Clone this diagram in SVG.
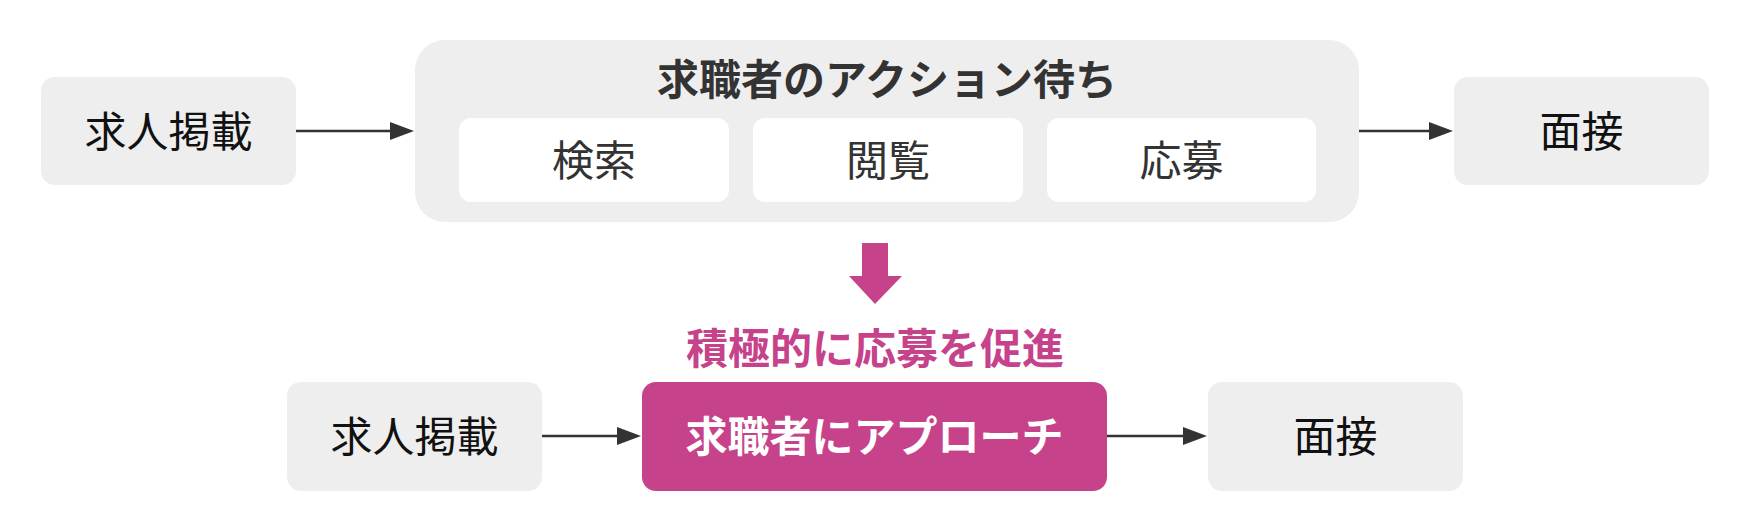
<svg xmlns="http://www.w3.org/2000/svg" width="1752" height="526" viewBox="0 0 1752 526">
  <defs>
    <style>
      .box { fill: #eeeeee; }
      .inner { fill: #ffffff; }
      .pink { fill: #c6428a; }
      .t { font-family: "Noto Sans CJK JP", "Noto Sans", sans-serif; font-size: 42px; text-anchor: middle; }
      .node { fill: #111111; font-weight: 400; }
      .sub { fill: #333333; font-weight: 400; }
      .title { fill: #333333; font-weight: 700; }
      .white { fill: #ffffff; font-weight: 700; }
      .accent { fill: #c6428a; font-weight: 700; }
      .conn { stroke: #333333; stroke-width: 2.5; fill: none; }
    </style>
    <marker id="arrow" viewBox="0 0 24 18" refX="12" refY="9" markerWidth="24" markerHeight="18" markerUnits="userSpaceOnUse" orient="auto">
      <path d="M0,0 L24,9 L0,18 z" fill="#333333"/>
    </marker>
  </defs>
  <rect width="1752" height="526" fill="#ffffff"/>

  <g id="connectors">
    <path class="conn" d="M296,131 L402,131" marker-end="url(#arrow)"/>
    <path class="conn" d="M1359,131 L1441,131" marker-end="url(#arrow)"/>
    <path class="conn" d="M542,436 L629,436" marker-end="url(#arrow)"/>
    <path class="conn" d="M1107,436 L1195,436" marker-end="url(#arrow)"/>
  </g>

  <g id="top-posting">
    <rect class="box" x="41" y="77" width="255" height="108" rx="14"/>
    <text class="t node" x="168.5" y="147">求人掲載</text>
  </g>

  <g id="top-waiting">
    <rect class="box" x="415" y="40" width="944" height="182" rx="30"/>
    <text class="t title" x="887" y="95">求職者のアクション待ち</text>
    <g id="search">
      <rect class="inner" x="459" y="118" width="270" height="84" rx="12"/>
      <text class="t sub" x="594" y="176">検索</text>
    </g>
    <g id="browse">
      <rect class="inner" x="753" y="118" width="270" height="84" rx="12"/>
      <text class="t sub" x="888" y="176">閲覧</text>
    </g>
    <g id="apply">
      <rect class="inner" x="1047" y="118" width="269" height="84" rx="12"/>
      <text class="t sub" x="1181.5" y="176">応募</text>
    </g>
  </g>

  <g id="top-interview">
    <rect class="box" x="1454" y="77" width="255" height="108" rx="14"/>
    <text class="t node" x="1581.5" y="147">面接</text>
  </g>

  <g id="transition">
    <path class="pink" d="M862,243 L888,243 L888,276 L902,276 L875,304 L849,276 L862,276 z"/>
    <text class="t accent" x="875" y="364">積極的に応募を促進</text>
  </g>

  <g id="bottom-posting">
    <rect class="box" x="287" y="382" width="255" height="109" rx="14"/>
    <text class="t node" x="414.5" y="452">求人掲載</text>
  </g>

  <g id="bottom-approach">
    <rect class="pink" x="642" y="382" width="465" height="109" rx="14"/>
    <text class="t white" x="874.5" y="452">求職者にアプローチ</text>
  </g>

  <g id="bottom-interview">
    <rect class="box" x="1208" y="382" width="255" height="109" rx="14"/>
    <text class="t node" x="1335.5" y="452">面接</text>
  </g>
</svg>
